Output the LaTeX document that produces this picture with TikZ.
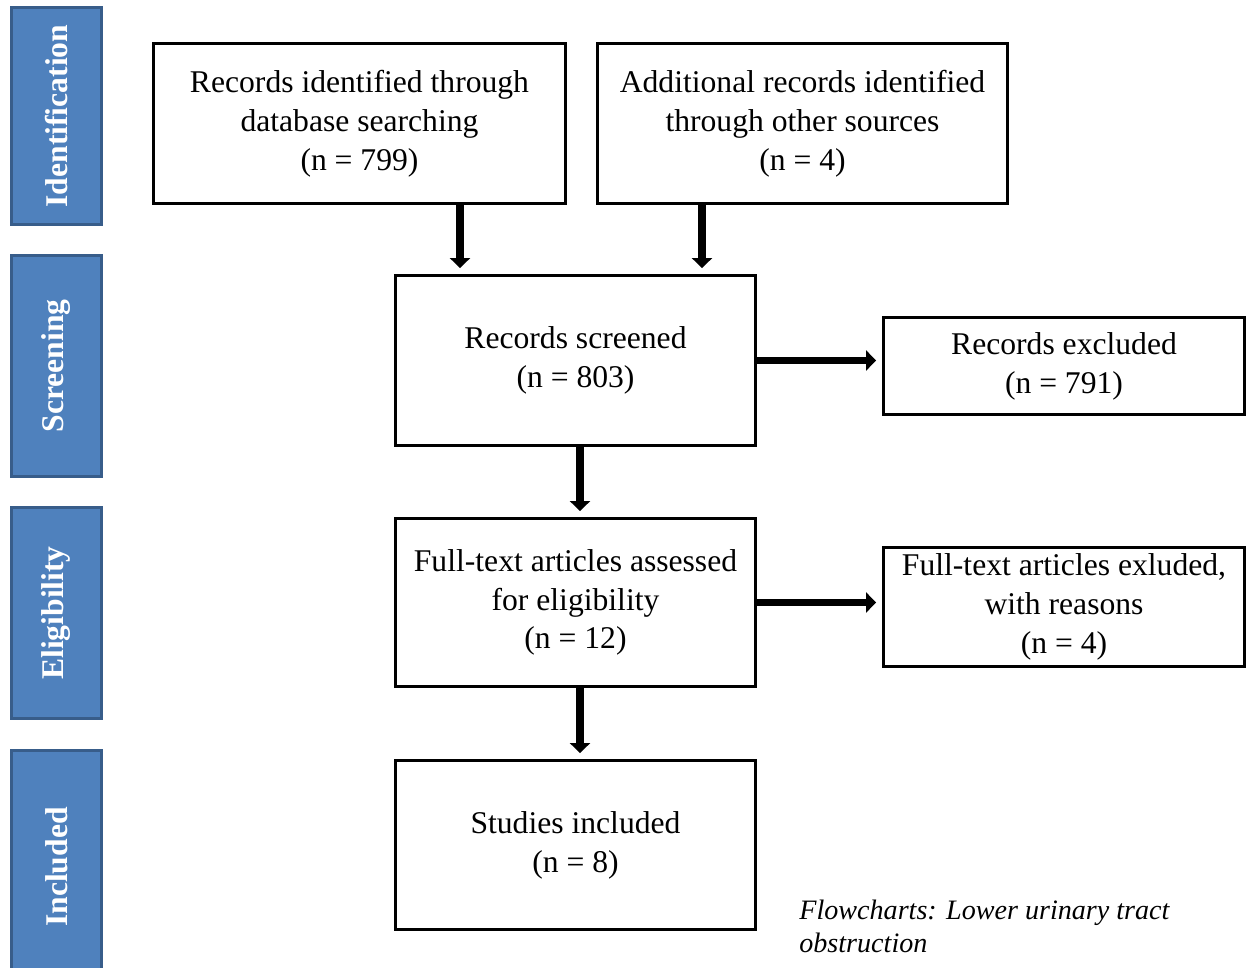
\documentclass[tikz,border=0pt]{standalone}
\usepackage{fontspec}
\setmainfont{Liberation Serif}
\usetikzlibrary{arrows.meta}

\definecolor{barfill}{HTML}{4F81BD}
\definecolor{bardraw}{HTML}{385D8A}

\begin{document}
\begin{tikzpicture}[x=0.02cm, y=-0.02cm,
    box/.style={draw, line width=1.7pt, align=center, inner sep=0pt,
      font=\fontsize{18}{22.1}\selectfont},
    phase/.style={draw=bardraw, fill=barfill, line width=1.7pt, rotate=90,
      minimum height=1.8cm, text=white, inner sep=0pt,
      font=\fontsize{18}{22}\selectfont\bfseries},
    flow/.style={line width=4.5pt, -{Triangle[width=0.4cm,length=0.2cm]},
      shorten >=0.12cm}]
  \useasboundingbox (0,0) rectangle (1247,967);

  % phase bars on the left
  \node[phase, minimum width=4.34cm] (ident) at (56.5,116) {Identification};
  \node[phase, minimum width=4.42cm] (screen) at (56.5,366) {Screening};
  \node[phase, minimum width=4.22cm] (elig) at (56.5,613) {Eligibility};
  \node[phase, minimum width=4.66cm] (incl) at (56.5,867) {Included};

  % boxes
  \node[box, minimum width=8.24cm, minimum height=3.2cm] (db) at (359.5,123.5)
    {Records identified through\\database searching\\(n = 799)};
  \node[box, minimum width=8.2cm, minimum height=3.2cm] (other) at (802.5,123.5)
    {Additional records identified\\through other sources\\(n = 4)};
  \node[box, minimum width=7.2cm, minimum height=3.4cm] (screened) at (575.5,360.5)
    {Records screened\\(n = 803)};
  \node[box, minimum width=7.22cm, minimum height=1.94cm] (excl) at (1064,366)
    {Records excluded\\(n = 791)};
  \node[box, minimum width=7.2cm, minimum height=3.36cm] (fulltext) at (575.5,602.5)
    {Full-text articles assessed\\for eligibility\\(n = 12)};
  \node[box, minimum width=7.22cm, minimum height=2.38cm] (ftexcl) at (1064,607)
    {Full-text articles exluded,\\with reasons\\(n = 4)};
  \node[box, minimum width=7.2cm, minimum height=3.38cm] (included) at (575.5,845)
    {Studies included\\(n = 8)};

  % caption
  \node[anchor=west, align=left, inner sep=0pt,
    font=\fontsize{16}{18.7}\selectfont\itshape] (caption) at (799,926)
    {Flowcharts: Lower urinary tract\\obstruction};

  % connectors
  \coordinate (a1) at (460,0);
  \coordinate (a2) at (702,0);
  \coordinate (a3) at (580,0);
  \draw[flow] (db.south -| a1) -- (screened.north -| a1);
  \draw[flow] (other.south -| a2) -- (screened.north -| a2);
  \draw[flow] (screened.south -| a3) -- (fulltext.north -| a3);
  \draw[flow] (fulltext.south -| a3) -- (included.north -| a3);
  \draw[flow] (screened.east) -- (screened.east -| excl.west);
  \draw[flow] (fulltext.east) -- (fulltext.east -| ftexcl.west);
\end{tikzpicture}
\end{document}
